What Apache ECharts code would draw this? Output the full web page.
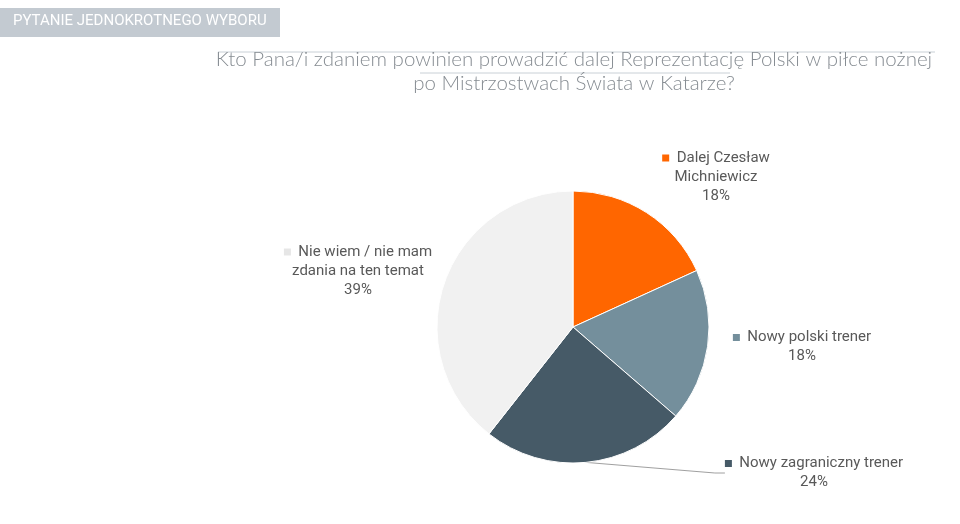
<!DOCTYPE html>
<html><head><meta charset="utf-8">
<script src="https://cdn.jsdelivr.net/npm/echarts@6/dist/echarts.min.js"></script>
<style>html,body{margin:0;padding:0;background:#fff;}#c{width:960px;height:524px;}</style>
</head><body><div id="c"></div>
<script>
const categories = ['Dalej Czesław\nMichniewicz', 'Nowy polski trener', 'Nowy zagraniczny trener', 'Nie wiem / nie mam\nzdania na ten temat'];
const values = [18, 18, 24, 39];
const colors = ['#FF6600', '#748F9C', '#465A67', '#F1F1F1'];
const headerText = 'PYTANIE JEDNOKROTNEGO WYBORU';
const titleText = 'Kto Pana/i zdaniem powinien prowadzić dalej Reprezentację Polski w piłce nożnej\npo Mistrzostwach Świata w Katarze?';

const labelPos = [[716, 177], [802, 347], [814, 473], [358, 271]];

const chart = echarts.init(document.getElementById('c'), null, {renderer: 'canvas'});
const rich = {
  t: {fontFamily: 'Roboto', fontSize: 15, color: '#595959', lineHeight: 19}
};
colors.forEach((c, i) => { rich['s' + i] = {width: 7, height: 7, backgroundColor: i === 3 ? '#E6E6E6' : c}; });

chart.setOption({
  backgroundColor: '#fff',
  animation: false,
  graphic: [
    {type: 'rect', shape: {x: 0, y: 8, width: 280, height: 29}, style: {fill: '#C3CAD1'}},
    {type: 'text', left: 13, top: 14, style: {text: headerText, fill: '#fff', font: '15px Roboto'}},
    {type: 'line', shape: {x1: 218, y1: 52, x2: 935, y2: 52}, style: {stroke: '#C9D0D6', lineWidth: 1}},
    {type: 'line', shape: {x1: 420, y1: 73, x2: 730, y2: 73}, style: {stroke: '#C9D0D6', lineWidth: 1}},
    {type: 'text', x: 574, y: 47, style: {text: titleText, fill: '#868C92', fontFamily: 'Lato', fontWeight: 300, fontSize: 20.5, lineHeight: 24, align: 'center'}}
  ],
  series: [{
    type: 'pie',
    center: [573, 327],
    radius: 136,
    startAngle: 90,
    clockwise: true,
    itemStyle: {borderColor: '#fff', borderWidth: 1},
    emphasis: {disabled: true},
    label: {
      show: true,
      position: 'outside',
      align: 'center',
      formatter: p => {
        const lines = p.name.split('\n');
        const first = '{s' + p.dataIndex + '|}{t|  ' + lines[0] + '}';
        const rest = lines.slice(1).map(l => '{t|' + l + '}');
        return [first].concat(rest).concat(['{t|' + p.value + '%}']).join('\n');
      },
      rich: rich
    },
    labelLine: {show: false},
    labelLayout: p => ({x: labelPos[p.dataIndex][0], y: labelPos[p.dataIndex][1], align: 'center', verticalAlign: 'middle'}),
    data: categories.map((n, i) => ({
      name: n, value: values[i], itemStyle: {color: colors[i]},
      labelLine: i === 2 ? {show: true, lineStyle: {color: '#A0A0A0', width: 1}, length: 8, length2: 10} : {show: false}
    }))
  }]
});
</script></body></html>
